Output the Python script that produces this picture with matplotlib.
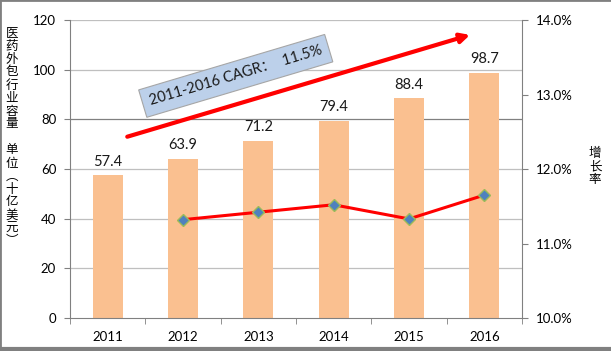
import matplotlib
matplotlib.use('Agg')
import matplotlib.pyplot as plt
from matplotlib.lines import Line2D
from matplotlib.ticker import FuncFormatter, MultipleLocator

plt.rcParams['font.family'] = ['Lato', 'Noto Sans CJK SC', 'DejaVu Sans']

# данные
years = ['2011', '2012', '2013', '2014', '2015', '2016']
market = [57.4, 63.9, 71.2, 79.4, 88.4, 98.7]
growth_years = [1, 2, 3, 4, 5]
growth = [0.1132, 0.1142, 0.1152, 0.1133, 0.1165]
cagr_text = '2011-2016 CAGR：  11.5%'
ylabel_left = '医药外包行业容量 单位︵十亿美元︶'
ylabel_right = '增长率'

fig = plt.figure(figsize=(6.11, 3.51), dpi=100)
ax = fig.add_axes([0.1146, 0.094, 0.7397, 0.849])
x = list(range(len(years)))

# столбцы
bars = ax.bar(x, market, width=0.4, color='#FAC090', zorder=2)
for xi, v in zip(x, market):
    ax.annotate(f'{v:.1f}', (xi, v), xytext=(0, 5), textcoords='offset points',
                ha='center', va='bottom', fontsize=10.5, color='#1a1a1a')

ax.set_xlim(-0.5, 5.5)
ax.set_ylim(0, 120)
ax.yaxis.set_major_locator(MultipleLocator(20))
ax.set_xticks(x)
ax.set_xticklabels(years, fontsize=9.5)
ax.set_xticks([i - 0.5 for i in range(7)], minor=True)
ax.tick_params(axis='x', which='major', length=0, pad=9)
ax.tick_params(axis='x', which='minor', length=4, color='#808080', direction='out')
ax.tick_params(axis='y', labelsize=9.5, length=4, color='#808080', pad=6)

for yv in range(20, 121, 20):
    ax.axhline(yv, color='#808080' if yv == 80 else '#BFBFBF', lw=0.9, zorder=1)

for s in ['top', 'right']:
    ax.spines[s].set_visible(False)
for s in ['left', 'bottom']:
    ax.spines[s].set_color('#808080')

# вторая ось
ax2 = ax.twinx()
ax2.plot(growth_years, growth, color='#FF0000', lw=2.2, marker='D', markersize=6,
         markerfacecolor='#4F81BD', markeredgecolor='#9BBB59', markeredgewidth=1, zorder=3)
ax2.set_ylim(0.10, 0.14)
ax2.yaxis.set_major_locator(MultipleLocator(0.01))
ax2.yaxis.set_major_formatter(FuncFormatter(lambda v, p: f'{v*100:.1f}%'))
ax2.tick_params(axis='y', labelsize=9.5, length=4, color='#808080', pad=6)
for s in ['top', 'left', 'bottom']:
    ax2.spines[s].set_visible(False)
ax2.spines['right'].set_color('#808080')

# стрелка CAGR
ax.annotate('', xy=(4.81, 114), xytext=(0.26, 73),
            arrowprops=dict(arrowstyle='-|>,head_length=0.55,head_width=0.28',
                            color='#FF0000', lw=3, shrinkA=0, shrinkB=0), zorder=4)
ax.text(1.70, 97.5, cagr_text, rotation=16.6, rotation_mode='anchor',
        ha='center', va='center', fontsize=10.5, color='#1a1a1a', zorder=5,
        bbox=dict(boxstyle='square,pad=0.5', facecolor='#BCD0EA',
                  edgecolor='#A6A6A6', lw=0.8))

# подписи осей (вертикально)
cjk = ['Noto Sans CJK SC', 'DejaVu Sans']
fig.text(12 / 611, 1 - 137 / 351, '\n'.join(ylabel_left), ha='center', va='center',
         fontsize=9, linespacing=1.0, family=cjk)
fig.text(595 / 611, 1 - 167 / 351, '\n'.join(ylabel_right), ha='center', va='center',
         fontsize=9, linespacing=1.0, family=cjk)

# рамка
fig.add_artist(Line2D([0, 0], [0, 1], transform=fig.transFigure, color='#808080', lw=2))
fig.add_artist(Line2D([0, 1], [1, 1], transform=fig.transFigure, color='#808080', lw=2))
fig.add_artist(Line2D([0, 1], [0.006, 0.006], transform=fig.transFigure, color='#808080', lw=3))

fig.savefig('out.png', dpi=100)
